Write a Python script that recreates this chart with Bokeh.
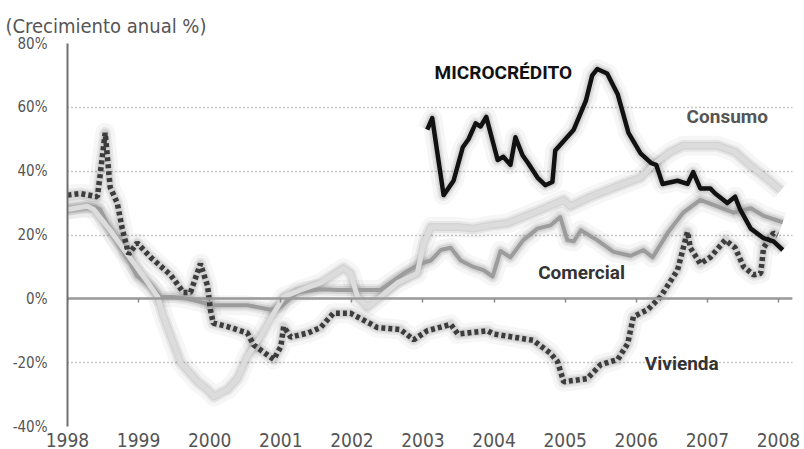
from bokeh.plotting import figure
from bokeh.models import Range1d, FixedTicker, Label, PrintfTickFormatter, LinearAxis, CustomJSTickFormatter
from bokeh.embed import file_html
from bokeh.resources import INLINE

# ---------------- data ----------------
years = list(range(1998, 2009))
y_ticks = [-40, -20, 0, 20, 40, 60, 80]

consumo_x = [1998.00, 1998.28, 1998.37, 1998.60, 1998.84, 1999.07, 1999.27, 1999.35, 1999.59,
             1999.83, 1999.97, 2000.06, 2000.25, 2000.39, 2000.53, 2000.71, 2000.90, 2001.04,
             2001.28, 2001.56, 2001.70, 2001.88, 2001.98, 2002.08, 2002.22, 2002.40, 2002.64,
             2002.92, 2003.01, 2003.11, 2003.29, 2003.49, 2003.71, 2003.95, 2004.19, 2004.65,
             2004.98, 2005.07, 2005.36, 2005.82, 2006.06, 2006.24, 2006.48, 2006.66, 2006.90,
             2007.14, 2007.39, 2007.59, 2007.82, 2008.03]
consumo_y = [28, 29, 28, 21.5, 14, 7, 0.6, -5.6, -20,
             -26, -28.5, -30.6, -28.4, -25, -18, -12, -4.5, 0.6,
             2.8, 5, 7, 9.6, 8, 0.6, -2.5, 0.6, 5,
             8, 17.5, 22.5, 22.5, 22.5, 22, 23, 23.7, 27.8,
             31, 29, 32, 36, 38, 42, 46, 48, 48,
             48, 46, 42, 38, 34]

comercial_x = [1998.00, 1998.37, 1998.46, 1998.60, 1998.84, 1998.98, 1999.17, 1999.31, 1999.49,
               1999.69, 1999.87, 2000.05, 2000.29, 2000.53, 2000.86, 2001.00, 2001.23, 2001.56,
               2001.80, 2002.08, 2002.40, 2002.73, 2002.96, 2003.11, 2003.25, 2003.39, 2003.53,
               2003.71, 2003.85, 2003.98, 2004.09, 2004.23, 2004.41, 2004.61, 2004.79, 2004.93,
               2005.03, 2005.12, 2005.22, 2005.45, 2005.68, 2005.92, 2006.10, 2006.23, 2006.44,
               2006.66, 2006.90, 2007.14, 2007.37, 2007.61, 2007.79, 2008.06]
comercial_y = [28, 28.8, 28, 21.5, 13, 7, 4, 0.6, 0.6,
               0, -1, -2, -2, -2, -3.4, -2.5, 2, 3,
               2.8, 2.8, 2.8, 8, 11, 12, 15.3, 16, 12,
               10, 9, 7, 15, 13, 18.4, 22, 23, 25.6,
               18.4, 18, 21.5, 18.4, 14.7, 13.5, 15.3, 13, 20.6,
               27, 31, 29, 27, 28.4, 26, 24]

vivienda_x = [1998.00, 1998.18, 1998.42, 1998.46, 1998.53, 1998.60, 1998.70, 1998.77, 1998.86,
              1998.98, 1999.17, 1999.45, 1999.63, 1999.73, 1999.87, 1999.97, 2000.01, 2000.05,
              2000.25, 2000.53, 2000.62, 2000.90, 2001.00, 2001.04, 2001.14, 2001.38, 2001.56,
              2001.74, 2001.98, 2002.36, 2002.68, 2002.87, 2003.06, 2003.39, 2003.49, 2003.91,
              2003.99, 2004.55, 2004.79, 2004.89, 2004.98, 2005.31, 2005.50, 2005.74, 2005.88,
              2005.92, 2005.96, 2006.16, 2006.34, 2006.58, 2006.72, 2006.76, 2006.90, 2007.04,
              2007.25, 2007.39, 2007.51, 2007.65, 2007.75, 2007.79, 2007.93, 2007.99]
vivienda_y = [32.5, 33, 32, 39, 52, 35, 30, 22, 14,
              17.5, 13, 7.5, 2, 2, 11, 4, -3.4, -7.6,
              -8.7, -10.7, -14.5, -19, -15, -8.7, -12, -10.7, -9,
              -4.5, -4.5, -9, -9.6, -12.8, -10, -8, -11, -10,
              -11, -13, -17, -19.6, -26, -25, -20.6, -19, -14,
              -9.7, -5.6, -3.4, 0.6, 9, 21, 16, 11, 13,
              18.4, 16, 10, 7.5, 8, 16, 20.6, 20]

micro_x = [2003.06, 2003.13, 2003.29, 2003.43, 2003.56, 2003.64, 2003.74, 2003.81, 2003.89,
           2004.05, 2004.13, 2004.23, 2004.30, 2004.40, 2004.48, 2004.61, 2004.72, 2004.82,
           2004.86, 2005.12, 2005.29, 2005.38, 2005.45, 2005.59, 2005.74, 2005.89, 2006.06,
           2006.21, 2006.28, 2006.37, 2006.58, 2006.72, 2006.80, 2006.90, 2007.04, 2007.11,
           2007.28, 2007.39, 2007.46, 2007.61, 2007.79, 2007.93, 2008.06]
micro_y = [53, 56.6, 32.5, 37, 47.5, 50, 55, 54, 57,
           43.5, 44.5, 42, 50.6, 45, 42.5, 38, 35.6, 36.6,
           46.5, 53, 62, 70, 72, 70.6, 64, 52, 45.6,
           42.5, 42, 36, 37, 36, 39.7, 34.6, 34.6, 33,
           30, 32, 28, 22, 19, 18, 15.3]

FONT = "Roboto"
COND = "DejaVu Sans Condensed"

p = figure(width=804, height=449,
           min_border_left=67, min_border_right=12, min_border_top=43, min_border_bottom=23,
           x_range=Range1d(1998, 2008.197), y_range=Range1d(-40, 80),
           output_backend="svg", toolbar_location=None,
           background_fill_color="white", border_fill_color="white", outline_line_color=None)

p.title.text = "(Crecimiento anual %)"
p.title.align = "left"
p.title.offset = -62
p.title.text_font = COND
p.title.text_font_style = "normal"
p.title.text_font_size = "20px"
p.title.text_color = "#555555"
p.title.standoff = 11

# grid
p.xgrid.visible = False
p.ygrid.ticker = FixedTicker(ticks=y_ticks)
p.ygrid.grid_line_color = "#8c8c8c"
p.ygrid.grid_line_dash = "1 3"
p.ygrid.grid_line_width = 1.5

# y axis
p.yaxis.ticker = FixedTicker(ticks=y_ticks)
p.yaxis.formatter = PrintfTickFormatter(format="%d%%")
p.yaxis.axis_line_color = "#707070"
p.yaxis.axis_line_width = 2
p.yaxis.major_tick_line_color = None
p.yaxis.minor_tick_line_color = None
p.yaxis.major_label_text_font = COND
p.yaxis.major_label_text_font_size = "15px"
p.yaxis.major_label_text_color = "#555555"
p.yaxis.major_label_standoff = 14

# x axis (labels only)
p.xaxis.ticker = FixedTicker(ticks=years)
p.xaxis.axis_line_color = None
p.xaxis.major_tick_line_color = None
p.xaxis.minor_tick_line_color = None
p.xaxis.major_label_text_font = COND
p.xaxis.major_label_text_font_size = "19px"
p.xaxis.major_label_text_color = "#555555"
p.xaxis.major_label_standoff = 0

# zero line with small year ticks
zaxis = LinearAxis(fixed_location=0, ticker=FixedTicker(ticks=years),
                   formatter=CustomJSTickFormatter(code="return ''"),
                   axis_line_color="#9a9a9a", axis_line_width=2.5,
                   major_tick_in=0, major_tick_out=4, major_tick_line_color="#8a8a8a",
                   major_tick_line_width=1.5, minor_tick_line_color=None,
                   major_label_standoff=0)
p.add_layout(zaxis, "below")

# shadows / glow
for xs, ys in [(comercial_x, comercial_y), (consumo_x, consumo_y),
               (vivienda_x, vivienda_y), (micro_x, micro_y)]:
    p.line(xs, ys, line_color="#000000", line_alpha=0.035, line_width=20, line_join="round")
    p.line(xs, ys, line_color="#000000", line_alpha=0.06, line_width=12, line_join="round")
    p.line(xs, ys, line_color="#000000", line_alpha=0.08, line_width=8, line_join="round")

p.line(comercial_x, comercial_y, line_color="#9c9c9c", line_width=4, line_join="round")
p.line(consumo_x, consumo_y, line_color="#dcdcdc", line_width=5, line_join="round")
p.line(vivienda_x, vivienda_y, line_color="#3c3c3c", line_width=5.5, line_dash="4 3")
p.line(micro_x, micro_y, line_color="#111111", line_width=4.5, line_join="round")

# labels
for txt, lx, ly, col in [("MICROCRÉDITO", 2004.13, 71, "#111111"),
                         ("Consumo", 2007.28, 57, "#555555"),
                         ("Comercial", 2005.23, 8.4, "#333333"),
                         ("Vivienda", 2006.64, -20.3, "#333333")]:
    p.add_layout(Label(x=lx, y=ly, text=txt, text_font=FONT, text_font_style="bold",
                       text_font_size="19px", text_align="center", text_baseline="middle",
                       text_color=col))

open("out.html", "w").write(file_html(p, INLINE))
